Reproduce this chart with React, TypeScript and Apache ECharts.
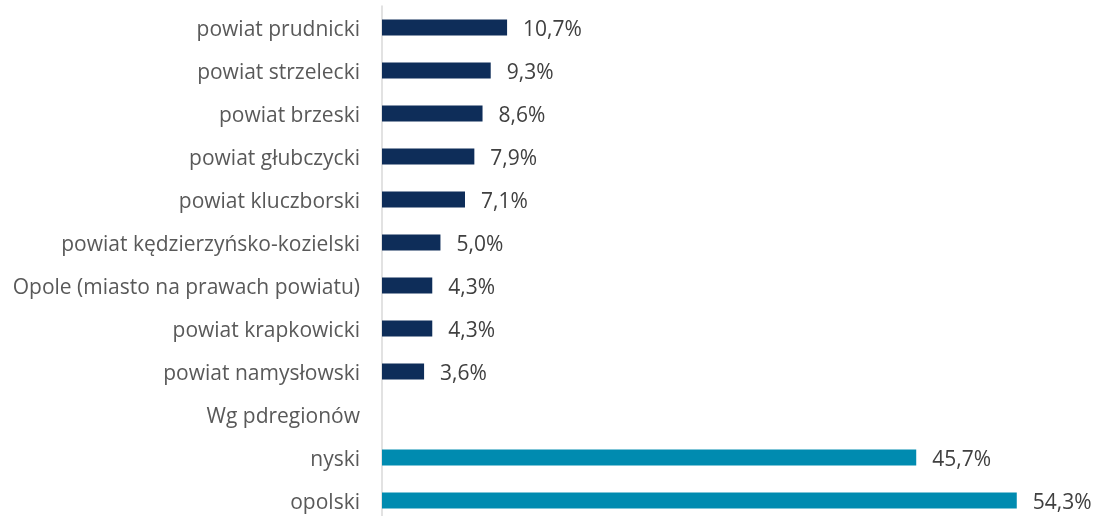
import React, { useEffect, useRef } from "react";
import * as echarts from "echarts";

const categories = [
  "powiat prudnicki",
  "powiat strzelecki",
  "powiat brzeski",
  "powiat głubczycki",
  "powiat kluczborski",
  "powiat kędzierzyńsko-kozielski",
  "Opole (miasto na prawach powiatu)",
  "powiat krapkowicki",
  "powiat namysłowski",
  "Wg pdregionów",
  "nyski",
  "opolski",
];
const powiatValues = [10.7, 9.3, 8.6, 7.9, 7.1, 5.0, 4.3, 4.3, 3.6];
const headerValue: (number | null)[] = [null];
const subregionValues = [45.7, 54.3];

const NAVY = "#0E2D59";
const TEAL = "#008BB0";

export default function App() {
  const ref = useRef<HTMLDivElement>(null);
  useEffect(() => {
    if (!ref.current) return;
    const chart = echarts.init(ref.current, null, { renderer: "svg" });
    const data = [
      ...powiatValues.map((v) => ({ value: v, itemStyle: { color: NAVY } })),
      ...headerValue.map((v) => ({ value: v })),
      ...subregionValues.map((v) => ({ value: v, itemStyle: { color: TEAL } })),
    ];
    chart.setOption({
      animation: false,
      grid: {
        left: 382,
        top: 6,
        width: 701.4,
        height: 516,
        containLabel: false,
        outerBoundsMode: "none",
      },
      xAxis: {
        type: "value",
        min: 0,
        max: 60,
        show: false,
      },
      yAxis: {
        type: "category",
        data: categories,
        inverse: true,
        axisLine: { show: true, lineStyle: { color: "#D9D9D9", width: 1.5 } },
        axisTick: { show: false },
        axisLabel: {
          color: "#595959",
          fontSize: 21,
          fontFamily: "Open Sans",
          margin: 22,
        },
      },
      series: [
        {
          type: "bar",
          data,
          barWidth: 16,
          label: {
            show: true,
            position: "right",
            distance: 16,
            color: "#404040",
            fontSize: 21,
            fontFamily: "Open Sans",
            formatter: (p: any) =>
              p.value == null ? "" : p.value.toFixed(1).replace(".", ",") + "%",
          },
        },
      ],
    });
    return () => chart.dispose();
  }, []);
  return (
    <div
      ref={ref}
      style={{ position: "fixed", left: 0, top: 0, width: 1097, height: 516 }}
    />
  );
}
